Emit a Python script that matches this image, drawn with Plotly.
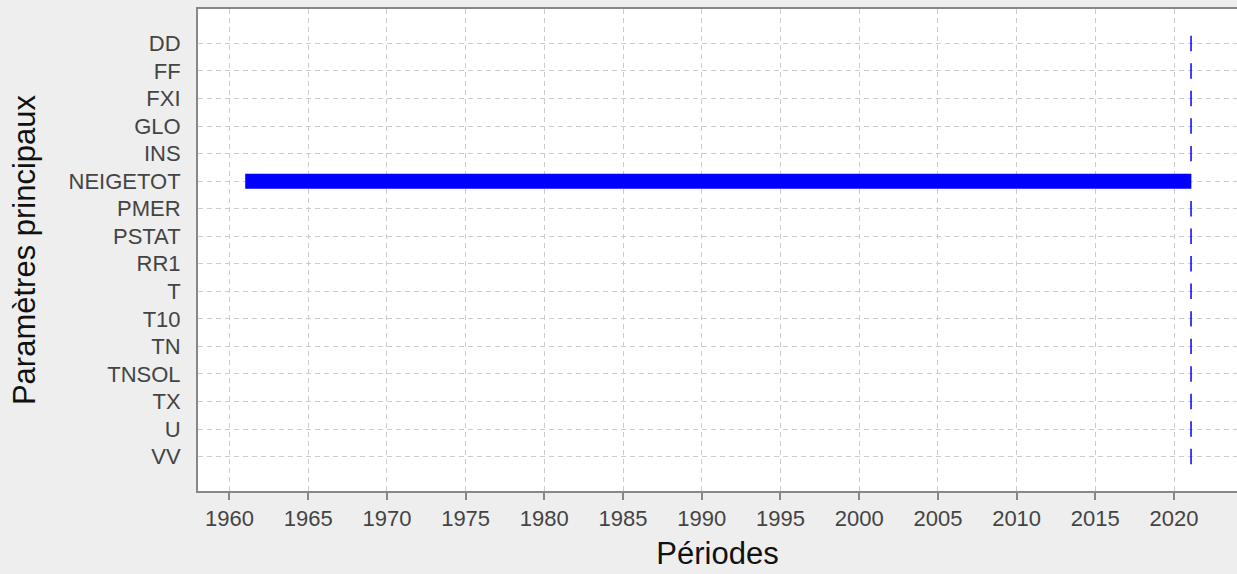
import plotly.graph_objects as go

params = ["DD", "FF", "FXI", "GLO", "INS", "NEIGETOT", "PMER", "PSTAT",
          "RR1", "T", "T10", "TN", "TNSOL", "TX", "U", "VV"]
starts = [2021.08, 2021.08, 2021.08, 2021.08, 2021.08, 1961.0, 2021.08, 2021.08,
          2021.08, 2021.08, 2021.08, 2021.08, 2021.08, 2021.08, 2021.08, 2021.08]
ends = [2021.08, 2021.08, 2021.08, 2021.08, 2021.08, 2021.1, 2021.08, 2021.08,
        2021.08, 2021.08, 2021.08, 2021.08, 2021.08, 2021.08, 2021.08, 2021.08]
year_ticks = list(range(1960, 2021, 5))

BLUE = "#0000ff"
fig = go.Figure()

lx, ly = [], []
px, py = [], []
for p, s, e in zip(params, starts, ends):
    if e - s > 0.5:
        lx += [s, e, None]
        ly += [p, p, None]
    else:
        px.append(e)
        py.append(p)

fig.add_trace(go.Scatter(x=lx, y=ly, mode="lines",
                         line=dict(color=BLUE, width=15), hoverinfo="skip",
                         showlegend=False))
fig.add_trace(go.Scatter(x=px, y=py, mode="markers",
                         marker=dict(symbol="line-ns", size=11,
                                     line=dict(color=BLUE, width=1.5)),
                         showlegend=False))

font_family = "Liberation Sans, Arial, sans-serif"
fig.update_layout(
    width=1237, height=574,
    margin=dict(l=198, r=0, t=9, b=83),
    paper_bgcolor="#eeeeee",
    plot_bgcolor="#ffffff",
    font=dict(family=font_family, color="#444444", size=23),
    showlegend=False,
)
fig.update_xaxes(
    range=[1958, 2024],
    tickmode="array", tickvals=year_ticks, ticktext=[str(v) for v in year_ticks],
    showgrid=True, gridcolor="#cccccc", griddash="5px,4px", gridwidth=1,
    showline=True, linecolor="#888888", linewidth=2, mirror=True,
    ticks="outside", ticklen=7, tickwidth=2, tickcolor="#888888",
    tickfont=dict(size=22, color="#444444"),
    zeroline=False,
    title=dict(text="Périodes", font=dict(size=31, color="#111111"), standoff=12),
)
fig.update_yaxes(
    type="category", categoryorder="array", categoryarray=params,
    tickmode="array", tickvals=params, ticktext=params,
    range=[len(params) - 1 + 1.25, -1.25],
    showgrid=True, gridcolor="#cccccc", griddash="5px,4px", gridwidth=1,
    showline=True, linecolor="#888888", linewidth=2, mirror=False,
    ticks="", ticklabelstandoff=11,
    tickfont=dict(size=22, color="#444444"),
    zeroline=False,
    title=dict(text="Paramètres principaux", font=dict(size=31, color="#111111"),
               standoff=24),
)

fig.write_html("out.html", config={"displayModeBar": False},
               post_script="document.body.style.margin='0';document.body.style.overflow='hidden';")
